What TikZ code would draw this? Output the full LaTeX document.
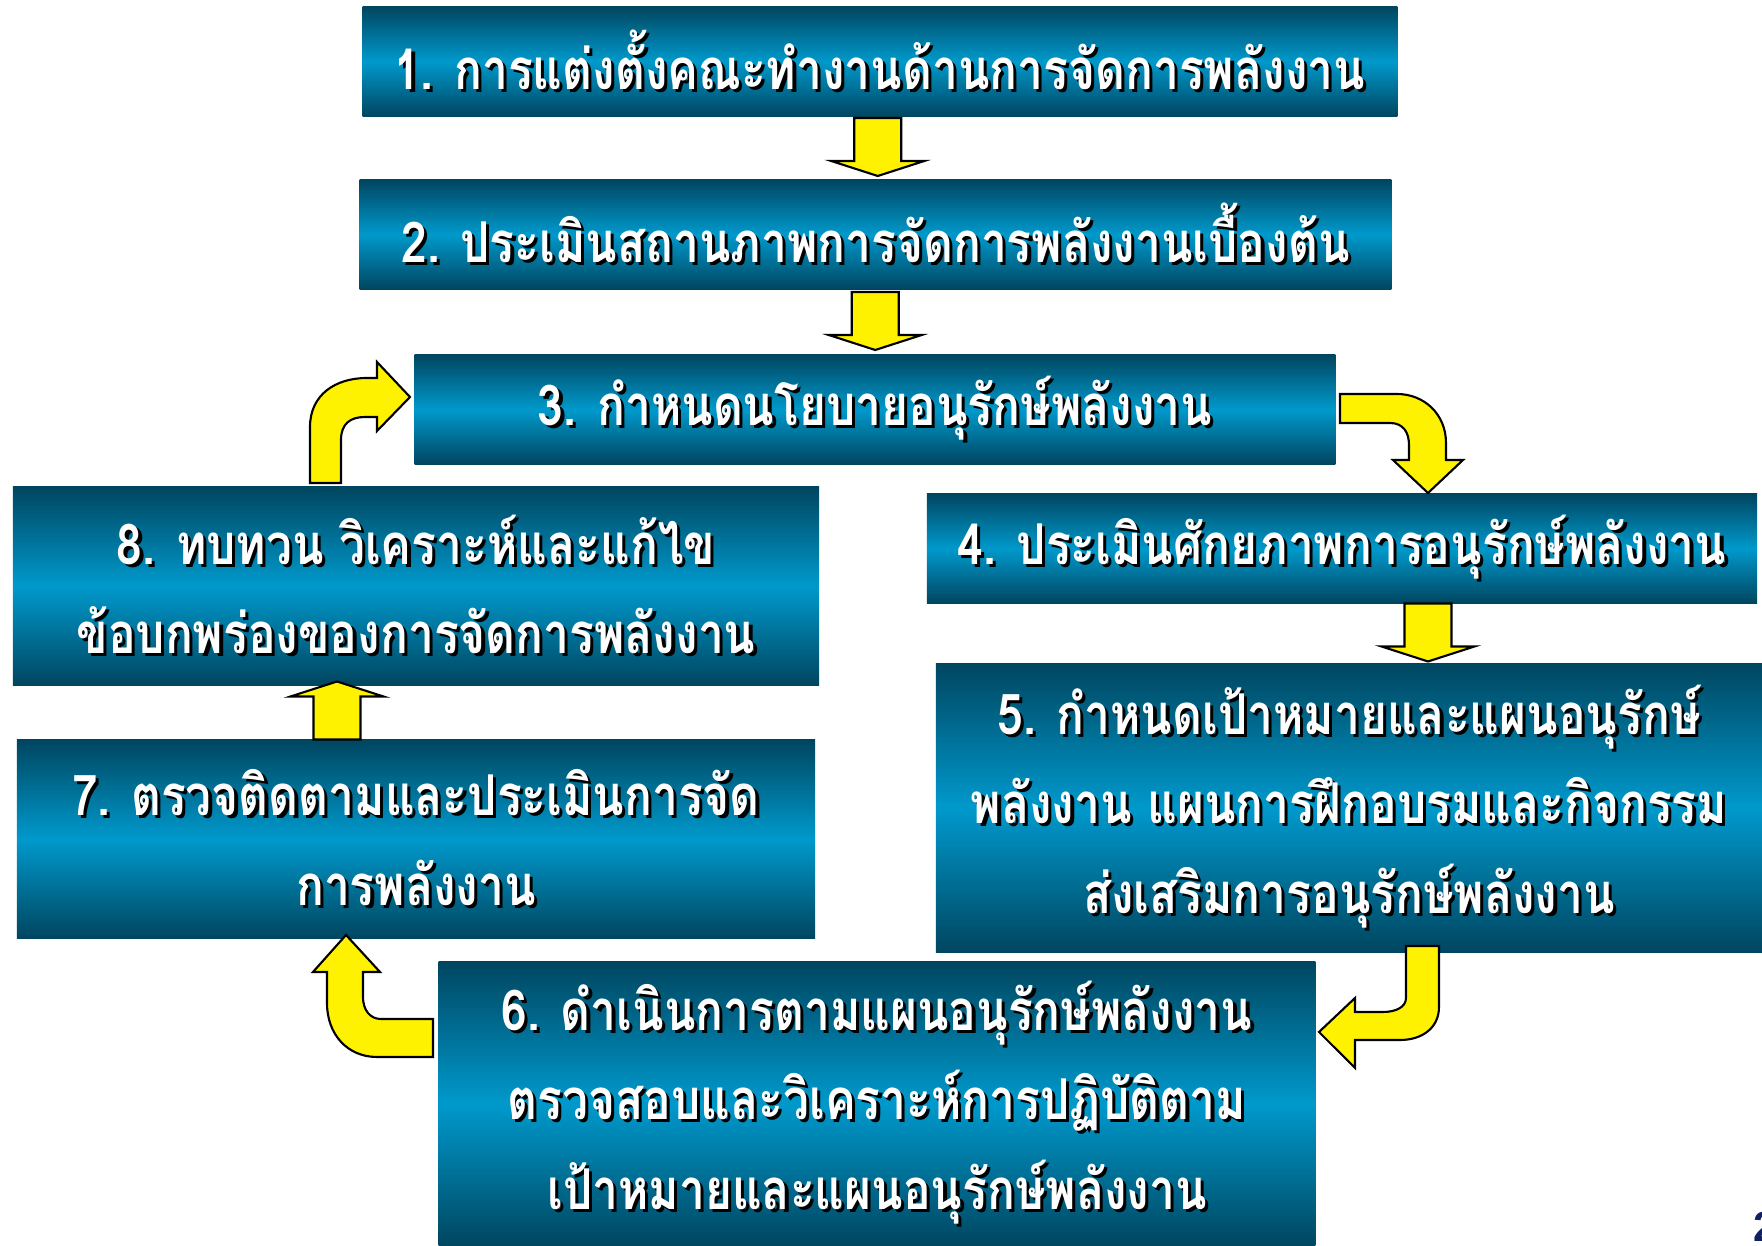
\documentclass[tikz,border=0pt]{standalone}
\usepackage{fontspec}
\newfontfamily\thaifont[Script=Thai,FakeStretch=0.82]{Loma}
\newfontfamily\numfont{Liberation Sans}
\usetikzlibrary{calc}

\definecolor{boxdark}{RGB}{0,70,96}
\definecolor{boxmid}{RGB}{0,153,204}
\definecolor{pagenum}{RGB}{16,32,96}

% white text with a black drop shadow
\newcommand{\shd}[1]{\leavevmode\rlap{\kern0.9pt\raisebox{-0.9pt}{\color{black}#1}}#1}

\tikzstyle{stepbox} = [draw=none, top color=boxdark, bottom color=boxdark, middle color=boxmid, text=white, align=center, inner sep=0pt, font=\thaifont\bfseries\fontsize{16}{25.5}\selectfont]
\tikzstyle{blockarrow} = [draw=black, line width=0.6pt, fill=yellow, line join=miter]
\tikzset{
  downblock/.pic={\draw[blockarrow] (-23.5,-30) -- (23.5,-30) -- (23.5,13) -- (46.5,13) -- (0,28) -- (-46.5,13) -- (-23.5,13) -- cycle;},
  upblock/.pic={\draw[blockarrow] (-23.5,27) -- (23.5,27) -- (23.5,-16) -- (46.5,-16) -- (0,-31) -- (-46.5,-16) -- (-23.5,-16) -- cycle;}
}

\begin{document}
\begin{tikzpicture}[x=0.01cm, y=-0.01cm]
\useasboundingbox (0,0) rectangle (1762,1246);

\node (b1) [stepbox, minimum width=10.34cm, minimum height=1.09cm] at (880,61.5) {\shd{1. การแต่งตั้งคณะทำงานด้านการจัดการพลังงาน}};
\node (b2) [stepbox, minimum width=10.31cm, minimum height=1.09cm] at (875.5,234.5) {\shd{2. ประเมินสถานภาพการจัดการพลังงานเบื้องต้น}};
\node (b3) [stepbox, minimum width=9.2cm, minimum height=1.09cm] at (875,409.5) {\shd{3. กำหนดนโยบายอนุรักษ์พลังงาน}};
\node (b4) [stepbox, minimum width=8.3cm, minimum height=1.09cm] at (1342,548.5) {\shd{4. ประเมินศักยภาพการอนุรักษ์พลังงาน}};
\node (b5) [stepbox, minimum width=8.26cm, minimum height=2.88cm] at (1349,808) {\shd{5. กำหนดเป้าหมายและแผนอนุรักษ์}\\\shd{พลังงาน แผนการฝึกอบรมและกิจกรรม}\\\shd{ส่งเสริมการอนุรักษ์พลังงาน}};
\node (b6) [stepbox, minimum width=8.76cm, minimum height=2.84cm] at (877,1104) {\shd{6. ดำเนินการตามแผนอนุรักษ์พลังงาน}\\\shd{ตรวจสอบและวิเคราะห์การปฏิบัติตาม}\\\shd{เป้าหมายและแผนอนุรักษ์พลังงาน}};
\node (b7) [stepbox, minimum width=7.98cm, minimum height=1.98cm] at (416,839) {\shd{7. ตรวจติดตามและประเมินการจัด}\\\shd{การพลังงาน}};
\node (b8) [stepbox, minimum width=8.06cm, minimum height=1.98cm] at (416,586) {\shd{8. ทบทวน วิเคราะห์และแก้ไข}\\\shd{ข้อบกพร่องของการจัดการพลังงาน}};

\node (pnum) [anchor=south west, inner sep=0pt, text=pagenum, font=\numfont\bfseries\fontsize{12}{14}\selectfont] at (1753,1242) {2};

% straight block arrows
\coordinate (m12) at ($(b1.south)!0.5!(b2.north)$);
\coordinate (m23) at ($(b2.south)!0.5!(b3.north)$);
\coordinate (m45) at ($(b4.south)!0.5!(b5.north)$);
\coordinate (m78) at ($(b8.south)!0.5!(b7.north)$);
\coordinate (x45) at (1428,0);
\coordinate (x78) at (337,0);
\pic at (m12) {downblock};
\pic at (m23) {downblock};
\pic at (m45 -| x45) {downblock};
\pic at (m78 -| x78) {upblock};

% bent block arrows
\draw[blockarrow] (310,483) -- (310,427) .. controls (310,395) and (335,378) .. (367,378) -- (377,378) -- (377,362) -- (410,397) -- (377,431) -- (377,417) -- (365,417) .. controls (350,417) and (341,424) .. (341,440) -- (341,483) -- cycle;
\draw[blockarrow] (1340,394) -- (1397,394) .. controls (1424,394) and (1446,414) .. (1446,443) -- (1446,460) -- (1463,460) -- (1428,493) -- (1393,460) -- (1409,460) -- (1409,445) .. controls (1409,432) and (1403,423) .. (1390,423) -- (1340,423) -- cycle;
\draw[blockarrow] (1406,946) -- (1439,946) -- (1439,1007) .. controls (1439,1028) and (1422,1040) .. (1400,1040) -- (1355,1040) -- (1355,1068) -- (1319,1032) -- (1355,998) -- (1355,1012) -- (1383,1012) .. controls (1396,1012) and (1406,1007) .. (1406,998) -- cycle;
\draw[blockarrow] (433,1019) -- (433,1057) -- (377,1057) .. controls (348,1057) and (327,1035) .. (327,1003) -- (327,972) -- (313,972) -- (346,935) -- (380,972) -- (363,972) -- (363,997) .. controls (363,1010) and (370,1019) .. (381,1019) -- cycle;

\end{tikzpicture}
\end{document}
